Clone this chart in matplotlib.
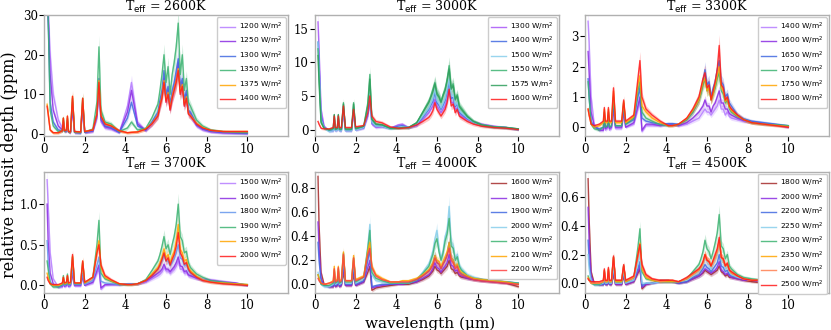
import numpy as np
import matplotlib
matplotlib.use("Agg")
import matplotlib.pyplot as plt

# shared wavelength grid (micron)
wl = [0.15, 0.2, 0.3, 0.45, 0.7, 0.9, 0.95, 1.0, 1.1, 1.15, 1.2, 1.3, 1.4, 1.5,
      1.8, 1.9, 2.0, 2.4, 2.6, 2.7, 2.8, 3.0, 3.3, 3.7, 4.1, 4.3, 4.6, 5.0,
      5.3, 5.6, 5.7, 5.8, 5.9, 6.0, 6.1, 6.2, 6.3, 6.4, 6.5, 6.6, 6.7, 6.8, 6.9, 7.0, 7.1, 7.2,
      7.5, 7.8, 8.2, 8.8, 9.4, 10.0]

# ---- Teff = 2600K ----
flux_2600 = [1200, 1250, 1300, 1350, 1375, 1400]
colors_2600 = ["#b57cff", "#8a2be2", "#4169e1", "#3cb371", "#ffa500", "#ff1a1a"]
depth_2600 = [
    [40, 32, 20, 10, 3.5, 1.5, 2.5, 0.8, 0.6, 2.5, 0.4, 0.3, 6.0, 0.3,
     0.2, 6.0, 0.3, 0.6, 4.0, 11, 3.0, 1.5, 1.2, 0.3, 7.0, 13, 3.0, 0.8,
     2.4, 4.5, 7, 9.5, 13, 8, 10, 6, 9, 11, 13, 17, 10, 12, 7, 9, 5, 4.5,
     2.0, 1.0, 0.5, 0.2, 0.1, 0.0],
    [36, 30, 15, 6, 2.0, 1.0, 3.0, 0.7, 0.7, 3.0, 0.5, 0.4, 7.0, 0.4,
     0.3, 7.0, 0.4, 0.7, 4.5, 12, 3.5, 1.8, 1.4, 0.4, 5.5, 11, 2.5, 0.9,
     2.6, 4.8, 7.5, 10, 14, 8.5, 11, 6.5, 9.5, 12, 14, 18, 11, 13, 7.5, 10, 5.5, 5,
     2.2, 1.2, 0.6, 0.3, 0.2, 0.1],
    [34, 30, 8, 3, 1.0, 0.8, 3.5, 0.6, 0.8, 3.5, 0.5, 0.4, 8.0, 0.4,
     0.3, 8.0, 0.4, 0.8, 5.0, 14, 4.0, 2.0, 1.6, 0.4, 4.0, 8, 2.0, 1.0,
     3.0, 5.5, 8.5, 11, 16, 10, 12, 7.5, 11, 13, 16, 19, 12, 14, 8.5, 11, 6, 5.5,
     2.4, 1.3, 0.7, 0.4, 0.3, 0.2],
    [34, 30, 6, 2, 0.6, 0.8, 4.0, 0.6, 0.9, 4.0, 0.5, 0.4, 9.0, 0.4,
     0.3, 9.0, 0.5, 1.2, 8.0, 22, 6.0, 3.0, 2.5, 0.6, 1.5, 3, 1.0, 1.4,
     4.0, 7.5, 11, 15, 20, 13, 17, 10, 15, 18, 22, 28, 15, 20, 11, 14, 8, 7,
     3.5, 2.0, 1.0, 0.6, 0.4, 0.3],
    [7.5, 5.5, 1.0, 0.3, 0.3, 0.8, 4.0, 0.8, 1.0, 4.5, 0.6, 0.5, 9.5, 0.6,
     0.5, 9.0, 0.6, 1.0, 5.0, 13.5, 4.5, 2.6, 2.1, 0.8, 0.3, 0.4, 0.5, 1.3,
     2.6, 4.7, 7.2, 9.5, 13.5, 8.5, 10.5, 6.3, 9.5, 11.5, 13.5, 16.5, 10.5, 12.5, 7.3, 9.4, 5.2, 4.7,
     2.6, 1.6, 0.9, 0.6, 0.6, 0.6],
    [7, 5, 1.0, 0.3, 0.3, 0.8, 4.0, 0.8, 1.0, 4.5, 0.6, 0.5, 9.5, 0.6,
     0.5, 9.0, 0.6, 1.0, 5.0, 13, 4.5, 2.5, 2.0, 0.8, 0.3, 0.4, 0.5, 1.2,
     2.5, 4.5, 7, 9, 13, 8, 10, 6, 9, 11, 13, 16, 10, 12, 7, 9, 5, 4.5,
     2.5, 1.5, 0.9, 0.6, 0.6, 0.6],
]

# ---- Teff = 3000K ----
flux_3000 = [1300, 1400, 1500, 1550, 1575, 1600]
colors_3000 = ["#a855f7", "#4169e1", "#87ceeb", "#3cb371", "#2e9e5b", "#ff1a1a"]
depth_3000 = [
    [16, 12, 3.0, 0.5, -0.2, -0.2, 1.2, -0.2, -0.1, 1.2, -0.2, -0.2, 2.5, -0.2,
     -0.2, 2.5, -0.1, 0.2, 2.0, 4.0, 0.8, 0.3, 0.4, 0.2, 0.7, 0.8, 0.3, 0.6,
     1.5, 2.5, 3.0, 3.5, 4.5, 3.5, 3.0, 2.5, 3.0, 3.5, 4.5, 6.0, 4.0, 4.0, 3.0, 3.2, 2.3, 2.0,
     1.5, 1.1, 0.8, 0.5, 0.3, 0.0],
    [13, 10, 2.0, 0.3, -0.2, -0.1, 1.5, -0.1, 0.0, 1.5, -0.1, -0.1, 3.0, -0.1,
     -0.1, 3.0, 0.0, 0.3, 2.4, 4.8, 1.0, 0.5, 0.5, 0.2, 0.5, 0.6, 0.3, 0.7,
     1.8, 3.0, 3.6, 4.2, 5.5, 4.0, 3.6, 3.0, 3.6, 4.3, 5.5, 7.0, 4.6, 4.8, 3.4, 3.8, 2.6, 2.3,
     1.6, 1.1, 0.7, 0.4, 0.3, 0.0],
    [13, 9, 1.5, 0.2, -0.3, -0.2, 1.6, -0.2, -0.1, 1.6, -0.2, -0.2, 3.2, -0.2,
     -0.2, 3.2, -0.1, 0.3, 2.8, 5.5, 1.1, 0.5, 0.5, 0.1, 0.3, 0.4, 0.3, 0.8,
     2.0, 3.2, 3.9, 4.6, 6.0, 4.3, 3.9, 3.2, 3.9, 4.6, 6.0, 7.5, 5.0, 5.2, 3.6, 4.0, 2.8, 2.5,
     1.7, 1.1, 0.7, 0.4, 0.3, 0.0],
    [12, 8, 1.2, 0.2, -0.1, 0.1, 2.2, 0.0, 0.1, 2.2, 0.0, 0.0, 4.0, 0.0,
     0.0, 4.0, 0.1, 0.5, 4.0, 8.2, 1.6, 0.8, 0.7, 0.2, 0.2, 0.3, 0.3, 1.0,
     2.6, 4.2, 5.0, 6.0, 7.0, 5.5, 5.0, 4.2, 5.2, 6.0, 7.5, 9.5, 6.3, 6.8, 4.6, 5.2, 3.6, 3.2,
     2.0, 1.2, 0.7, 0.4, 0.3, 0.1],
    [11, 7, 1.0, 0.2, 0.0, 0.2, 2.2, 0.1, 0.2, 2.2, 0.1, 0.1, 3.8, 0.1,
     0.1, 3.8, 0.2, 0.5, 3.6, 7.5, 1.5, 0.8, 0.7, 0.2, 0.2, 0.3, 0.3, 1.0,
     2.5, 4.0, 4.8, 5.6, 6.8, 5.2, 4.8, 4.0, 5.0, 5.8, 7.2, 9.0, 6.0, 6.5, 4.4, 5.0, 3.4, 3.0,
     1.9, 1.2, 0.7, 0.4, 0.3, 0.1],
    [1.2, 0.8, 0.2, 0.1, 0.1, 0.3, 2.0, 0.3, 0.3, 2.0, 0.3, 0.3, 3.5, 0.3,
     0.3, 3.0, 0.4, 0.6, 2.5, 5.0, 2.0, 1.2, 1.0, 0.4, 0.2, 0.2, 0.3, 0.7,
     1.2, 1.8, 2.2, 2.8, 4.0, 3.0, 2.5, 2.0, 2.5, 3.0, 4.0, 6.0, 3.5, 3.8, 2.5, 3.0, 2.0, 1.8,
     1.2, 0.8, 0.5, 0.3, 0.2, 0.0],
]

# ---- Teff = 3300K ----
flux_3300 = [1400, 1600, 1650, 1700, 1750, 1800]
colors_3300 = ["#b57cff", "#8a2be2", "#4169e1", "#3cb371", "#ffa500", "#ff1a1a"]
depth_3300 = [
    [3.5, 2.8, 1.0, 0.1, -0.1, -0.1, 0.2, -0.1, -0.05, 0.2, -0.1, -0.05, 0.4, -0.05,
     -0.05, 0.4, 0.0, 0.1, 0.6, 0.9, -0.15, 0.05, 0.05, 0.05, 0.1, 0.1, 0.05, 0.1,
     0.2, 0.3, 0.4, 0.5, 0.6, 0.5, 0.5, 0.4, 0.5, 0.6, 0.7, 0.9, 0.6, 0.6, 0.4, 0.5, 0.35, 0.3,
     0.25, 0.2, 0.18, 0.12, 0.08, 0.0],
    [2.5, 1.8, 0.5, 0.05, -0.1, -0.1, 0.3, -0.05, 0.0, 0.3, -0.05, 0.0, 0.6, 0.0,
     0.0, 0.5, 0.0, 0.15, 0.7, 1.0, -0.1, 0.1, 0.1, 0.05, 0.1, 0.1, 0.05, 0.15,
     0.3, 0.5, 0.6, 0.7, 0.9, 0.7, 0.7, 0.5, 0.7, 0.8, 1.0, 1.2, 0.8, 0.8, 0.6, 0.6, 0.45, 0.4,
     0.3, 0.22, 0.18, 0.12, 0.08, 0.0],
    [1.6, 1.0, 0.2, 0.0, -0.05, 0.0, 0.4, 0.0, 0.05, 0.4, 0.0, 0.05, 0.8, 0.05,
     0.05, 0.7, 0.1, 0.25, 1.0, 1.3, 0.3, 0.2, 0.15, 0.1, 0.12, 0.12, 0.1, 0.25,
     0.5, 0.9, 1.2, 1.5, 1.9, 1.4, 1.5, 1.0, 1.3, 1.5, 1.9, 2.2, 1.5, 1.4, 1.0, 1.1, 0.8, 0.7,
     0.4, 0.28, 0.2, 0.15, 0.1, 0.05],
    [1.5, 1.0, 0.1, -0.05, -0.1, 0.0, 0.5, 0.0, 0.05, 0.5, 0.0, 0.05, 1.0, 0.05,
     0.05, 0.8, 0.1, 0.3, 1.2, 1.5, 0.5, 0.3, 0.2, 0.08, 0.05, 0.06, 0.08, 0.25,
     0.5, 0.9, 1.1, 1.4, 1.6, 1.2, 1.3, 0.9, 1.1, 1.3, 1.6, 1.8, 1.2, 1.1, 0.8, 0.9, 0.6, 0.5,
     0.35, 0.25, 0.15, 0.1, 0.08, 0.05],
    [0.6, 0.4, 0.1, 0.0, 0.05, 0.15, 0.6, 0.15, 0.15, 0.6, 0.15, 0.15, 1.2, 0.15,
     0.15, 0.85, 0.15, 0.35, 1.4, 1.7, 0.7, 0.5, 0.3, 0.15, 0.05, 0.05, 0.1, 0.28,
     0.55, 0.9, 1.2, 1.5, 1.6, 1.2, 1.3, 0.9, 1.1, 1.4, 1.7, 2.0, 1.3, 1.2, 0.85, 0.95, 0.65, 0.55,
     0.38, 0.25, 0.15, 0.1, 0.06, 0.02],
    [0.6, 0.4, 0.1, 0.05, 0.1, 0.2, 0.65, 0.2, 0.2, 0.65, 0.2, 0.2, 1.3, 0.2,
     0.2, 0.9, 0.2, 0.4, 1.6, 2.2, 1.0, 0.6, 0.4, 0.2, 0.05, 0.05, 0.1, 0.3,
     0.6, 1.0, 1.3, 1.6, 1.8, 1.3, 1.4, 0.9, 1.2, 1.5, 1.9, 2.7, 1.4, 1.3, 0.9, 1.0, 0.7, 0.6,
     0.4, 0.25, 0.15, 0.1, 0.05, 0.0],
]

# ---- Teff = 3700K ----
flux_3700 = [1500, 1600, 1800, 1900, 1950, 2000]
colors_3700 = ["#b57cff", "#8a2be2", "#6495ed", "#3cb371", "#ffa500", "#ff1a1a"]
depth_3700 = [
    [1.3, 1.0, 0.4, 0.08, -0.02, -0.02, 0.04, -0.02, -0.01, 0.05, -0.02, -0.01, 0.12, -0.01,
     -0.01, 0.1, 0.0, 0.03, 0.15, 0.2, -0.05, 0.0, 0.01, 0.01, 0.02, 0.02, 0.02, 0.04,
     0.08, 0.12, 0.14, 0.17, 0.22, 0.18, 0.18, 0.15, 0.18, 0.2, 0.24, 0.3, 0.2, 0.2, 0.15, 0.16, 0.12, 0.11,
     0.09, 0.08, 0.07, 0.05, 0.03, 0.0],
    [1.0, 0.55, 0.15, 0.02, -0.02, -0.01, 0.05, -0.01, 0.0, 0.06, -0.01, 0.0, 0.15, 0.0,
     0.0, 0.12, 0.0, 0.04, 0.18, 0.25, -0.03, 0.01, 0.01, 0.01, 0.02, 0.02, 0.02, 0.05,
     0.1, 0.15, 0.17, 0.2, 0.26, 0.2, 0.2, 0.17, 0.2, 0.23, 0.28, 0.35, 0.24, 0.23, 0.17, 0.18, 0.13, 0.12,
     0.09, 0.07, 0.06, 0.04, 0.03, 0.0],
    [0.55, 0.3, 0.05, 0.0, -0.02, 0.0, 0.08, 0.0, 0.01, 0.08, 0.0, 0.01, 0.2, 0.01,
     0.01, 0.15, 0.01, 0.06, 0.25, 0.35, 0.05, 0.03, 0.02, 0.01, 0.02, 0.02, 0.02, 0.06,
     0.12, 0.2, 0.24, 0.3, 0.38, 0.3, 0.3, 0.24, 0.28, 0.33, 0.4, 0.5, 0.34, 0.32, 0.24, 0.26, 0.18, 0.15,
     0.1, 0.07, 0.05, 0.03, 0.02, 0.0],
    [0.3, 0.2, 0.02, -0.02, -0.02, 0.01, 0.12, 0.01, 0.02, 0.14, 0.01, 0.02, 0.35, 0.02,
     0.02, 0.28, 0.03, 0.1, 0.5, 0.8, 0.15, 0.08, 0.05, 0.01, 0.01, 0.01, 0.02, 0.07,
     0.18, 0.3, 0.38, 0.48, 0.6, 0.45, 0.5, 0.38, 0.5, 0.6, 0.75, 1.0, 0.6, 0.55, 0.4, 0.42, 0.28, 0.22,
     0.14, 0.1, 0.06, 0.04, 0.02, 0.01],
    [0.15, 0.1, 0.02, 0.0, 0.0, 0.02, 0.1, 0.02, 0.03, 0.12, 0.02, 0.03, 0.36, 0.03,
     0.03, 0.3, 0.03, 0.1, 0.42, 0.55, 0.22, 0.1, 0.06, 0.02, 0.01, 0.01, 0.02, 0.06,
     0.14, 0.22, 0.28, 0.35, 0.45, 0.34, 0.38, 0.28, 0.36, 0.42, 0.55, 0.75, 0.44, 0.4, 0.3, 0.32, 0.22, 0.18,
     0.11, 0.07, 0.04, 0.03, 0.02, 0.01],
    [0.1, 0.06, 0.02, 0.01, 0.01, 0.03, 0.1, 0.03, 0.04, 0.12, 0.03, 0.04, 0.38, 0.03,
     0.03, 0.3, 0.04, 0.1, 0.4, 0.5, 0.25, 0.12, 0.07, 0.02, 0.01, 0.01, 0.02, 0.06,
     0.12, 0.2, 0.25, 0.32, 0.4, 0.3, 0.34, 0.25, 0.32, 0.38, 0.48, 0.65, 0.4, 0.35, 0.26, 0.28, 0.2, 0.16,
     0.1, 0.06, 0.04, 0.02, 0.01, 0.0],
]

# ---- Teff = 4000K ----
flux_4000 = [1600, 1800, 1900, 2000, 2050, 2100, 2200]
colors_4000 = ["#a52a2a", "#8a2be2", "#4169e1", "#87ceeb", "#3cb371", "#ffa500", "#ff4040"]
depth_4000 = [
    [0.9, 0.5, 0.1, 0.0, -0.02, -0.02, 0.03, -0.02, -0.01, 0.04, -0.02, -0.01, 0.1, -0.01,
     -0.01, 0.08, -0.01, 0.02, 0.1, 0.15, -0.05, -0.03, -0.02, -0.01, 0.0, 0.0, 0.0, 0.02,
     0.04, 0.07, 0.09, 0.11, 0.15, 0.12, 0.11, 0.09, 0.11, 0.13, 0.15, 0.2, 0.13, 0.12, 0.09, 0.1, 0.07, 0.06,
     0.05, 0.04, 0.03, 0.02, 0.01, -0.02],
    [0.52, 0.3, 0.05, -0.01, -0.02, -0.02, 0.04, -0.02, -0.01, 0.05, -0.02, -0.01, 0.13, -0.01,
     -0.01, 0.1, -0.01, 0.02, 0.14, 0.2, -0.03, -0.02, -0.01, 0.0, 0.0, 0.0, 0.01, 0.02,
     0.05, 0.08, 0.1, 0.13, 0.18, 0.14, 0.13, 0.1, 0.13, 0.15, 0.18, 0.25, 0.16, 0.15, 0.11, 0.12, 0.08, 0.07,
     0.05, 0.04, 0.03, 0.02, 0.01, 0.0],
    [0.35, 0.2, 0.03, -0.01, -0.02, -0.01, 0.06, -0.01, 0.0, 0.07, -0.01, 0.0, 0.18, 0.0,
     0.0, 0.14, 0.0, 0.03, 0.2, 0.3, -0.02, -0.01, 0.0, 0.0, 0.01, 0.01, 0.01, 0.03,
     0.07, 0.11, 0.14, 0.17, 0.24, 0.18, 0.17, 0.13, 0.17, 0.2, 0.25, 0.35, 0.22, 0.2, 0.15, 0.16, 0.11, 0.09,
     0.06, 0.05, 0.04, 0.03, 0.02, 0.01],
    [0.1, 0.06, 0.0, -0.02, -0.02, 0.0, 0.1, 0.0, 0.01, 0.11, 0.0, 0.01, 0.24, 0.01,
     0.01, 0.2, 0.01, 0.05, 0.32, 0.5, 0.08, 0.03, 0.02, 0.01, 0.01, 0.01, 0.01, 0.04,
     0.1, 0.17, 0.22, 0.28, 0.38, 0.45, 0.3, 0.22, 0.28, 0.4, 0.45, 0.65, 0.35, 0.32, 0.22, 0.25, 0.16, 0.13,
     0.08, 0.06, 0.04, 0.03, 0.02, 0.01],
    [0.08, 0.05, 0.0, -0.01, -0.01, 0.01, 0.12, 0.01, 0.02, 0.13, 0.01, 0.02, 0.26, 0.02,
     0.02, 0.22, 0.02, 0.06, 0.3, 0.45, 0.1, 0.05, 0.03, 0.01, 0.01, 0.01, 0.01, 0.04,
     0.09, 0.15, 0.2, 0.25, 0.34, 0.38, 0.27, 0.2, 0.26, 0.36, 0.42, 0.55, 0.32, 0.3, 0.2, 0.23, 0.15, 0.12,
     0.07, 0.05, 0.04, 0.03, 0.02, 0.01],
    [0.08, 0.05, 0.01, 0.0, 0.01, 0.03, 0.15, 0.03, 0.04, 0.15, 0.03, 0.04, 0.27, 0.03,
     0.03, 0.24, 0.04, 0.07, 0.28, 0.35, 0.15, 0.08, 0.05, 0.02, 0.02, 0.03, 0.03, 0.05,
     0.08, 0.12, 0.15, 0.18, 0.24, 0.2, 0.19, 0.15, 0.19, 0.23, 0.27, 0.35, 0.22, 0.2, 0.15, 0.17, 0.12, 0.1,
     0.07, 0.05, 0.04, 0.03, 0.02, 0.0],
    [0.05, 0.03, 0.01, 0.0, 0.01, 0.02, 0.13, 0.02, 0.03, 0.14, 0.02, 0.03, 0.25, 0.03,
     0.03, 0.22, 0.03, 0.06, 0.25, 0.3, 0.14, 0.07, 0.04, 0.02, 0.02, 0.02, 0.02, 0.04,
     0.07, 0.11, 0.13, 0.16, 0.22, 0.18, 0.17, 0.13, 0.17, 0.2, 0.24, 0.3, 0.2, 0.18, 0.13, 0.15, 0.1, 0.08,
     0.06, 0.04, 0.03, 0.02, 0.01, 0.0],
]

# ---- Teff = 4500K ----
flux_4500 = [1800, 2000, 2200, 2250, 2300, 2350, 2400, 2500]
colors_4500 = ["#a52a2a", "#8a2be2", "#4169e1", "#87ceeb", "#3cb371", "#ffa500", "#ff7f50", "#ff1a1a"]
depth_4500 = [
    [0.73, 0.45, 0.08, 0.0, -0.01, -0.01, 0.02, -0.01, -0.01, 0.02, -0.01, -0.01, 0.06, -0.01,
     -0.01, 0.05, -0.01, 0.01, 0.07, 0.1, -0.04, -0.01, 0.0, 0.02, 0.02, 0.01, 0.0, 0.01,
     0.03, 0.05, 0.06, 0.07, 0.09, 0.08, 0.07, 0.06, 0.07, 0.08, 0.09, 0.12, 0.08, 0.07, 0.05, 0.06, 0.04, 0.04,
     0.03, 0.02, 0.01, 0.0, -0.01, -0.04],
    [0.53, 0.3, 0.05, 0.0, -0.01, -0.01, 0.02, -0.01, -0.01, 0.03, -0.01, -0.01, 0.07, -0.01,
     -0.01, 0.06, -0.01, 0.01, 0.08, 0.12, -0.03, -0.01, 0.0, 0.01, 0.01, 0.01, 0.0, 0.01,
     0.03, 0.05, 0.06, 0.08, 0.1, 0.09, 0.08, 0.07, 0.08, 0.09, 0.11, 0.15, 0.09, 0.08, 0.06, 0.07, 0.05, 0.04,
     0.03, 0.02, 0.02, 0.01, 0.01, 0.0],
    [0.3, 0.15, 0.02, -0.01, -0.01, -0.01, 0.03, -0.01, 0.0, 0.04, -0.01, 0.0, 0.09, 0.0,
     0.0, 0.07, 0.0, 0.02, 0.1, 0.15, -0.02, 0.0, 0.0, 0.01, 0.01, 0.01, 0.0, 0.01,
     0.04, 0.06, 0.08, 0.1, 0.13, 0.11, 0.1, 0.08, 0.1, 0.12, 0.14, 0.2, 0.12, 0.11, 0.08, 0.09, 0.06, 0.05,
     0.04, 0.03, 0.02, 0.02, 0.01, 0.01],
    [0.2, 0.1, 0.01, -0.01, -0.01, 0.0, 0.05, 0.0, 0.0, 0.05, 0.0, 0.0, 0.12, 0.0,
     0.0, 0.09, 0.0, 0.02, 0.14, 0.2, 0.0, 0.0, 0.0, 0.01, 0.01, 0.01, 0.01, 0.02,
     0.05, 0.08, 0.1, 0.13, 0.18, 0.15, 0.13, 0.1, 0.14, 0.17, 0.2, 0.28, 0.16, 0.15, 0.1, 0.12, 0.08, 0.06,
     0.04, 0.03, 0.02, 0.02, 0.01, 0.01],
    [0.05, 0.03, 0.0, -0.01, -0.01, 0.01, 0.08, 0.01, 0.01, 0.09, 0.01, 0.01, 0.18, 0.01,
     0.01, 0.12, 0.01, 0.04, 0.25, 0.38, 0.08, 0.03, 0.02, 0.01, 0.01, 0.01, 0.01, 0.03,
     0.08, 0.13, 0.17, 0.22, 0.3, 0.24, 0.22, 0.17, 0.22, 0.28, 0.35, 0.48, 0.26, 0.24, 0.17, 0.2, 0.12, 0.1,
     0.06, 0.04, 0.03, 0.02, 0.02, 0.01],
    [0.04, 0.02, 0.0, 0.0, 0.0, 0.01, 0.09, 0.01, 0.01, 0.1, 0.01, 0.01, 0.18, 0.01,
     0.01, 0.12, 0.01, 0.04, 0.2, 0.28, 0.1, 0.04, 0.02, 0.01, 0.01, 0.01, 0.01, 0.03,
     0.06, 0.09, 0.11, 0.14, 0.2, 0.16, 0.15, 0.12, 0.15, 0.18, 0.22, 0.3, 0.18, 0.16, 0.12, 0.13, 0.09, 0.07,
     0.05, 0.03, 0.02, 0.02, 0.01, 0.01],
    [0.03, 0.02, 0.0, 0.0, 0.0, 0.01, 0.09, 0.01, 0.02, 0.1, 0.01, 0.02, 0.18, 0.02,
     0.02, 0.12, 0.02, 0.04, 0.18, 0.25, 0.12, 0.05, 0.03, 0.01, 0.02, 0.02, 0.01, 0.03,
     0.06, 0.09, 0.11, 0.14, 0.19, 0.16, 0.15, 0.12, 0.15, 0.18, 0.22, 0.3, 0.18, 0.16, 0.12, 0.13, 0.09, 0.07,
     0.05, 0.03, 0.02, 0.02, 0.01, 0.01],
    [0.03, 0.02, 0.01, 0.01, 0.01, 0.02, 0.1, 0.02, 0.02, 0.11, 0.02, 0.02, 0.19, 0.02,
     0.02, 0.13, 0.02, 0.05, 0.2, 0.27, 0.13, 0.06, 0.03, 0.02, 0.02, 0.02, 0.01, 0.04,
     0.07, 0.1, 0.12, 0.15, 0.2, 0.16, 0.15, 0.12, 0.16, 0.2, 0.24, 0.32, 0.18, 0.17, 0.12, 0.14, 0.09, 0.08,
     0.05, 0.03, 0.02, 0.02, 0.02, 0.01],
]

teffs = [2600, 3000, 3300, 3700, 4000, 4500]
fluxes = [flux_2600, flux_3000, flux_3300, flux_3700, flux_4000, flux_4500]
depths = [depth_2600, depth_3000, depth_3300, depth_3700, depth_4000, depth_4500]
colors = [colors_2600, colors_3000, colors_3300, colors_3700, colors_4000, colors_4500]
ylims = [(-0.6, 30), (-1.0, 17), (-0.3, 3.7), (-0.09, 1.4), (-0.07, 0.94), (-0.067, 0.78)]
yticks = [[0, 10, 20, 30], [0, 5, 10, 15], [0, 1, 2, 3],
          [0.0, 0.5, 1.0], [0.0, 0.2, 0.4, 0.6, 0.8], [0.0, 0.2, 0.4, 0.6]]

plt.rcParams["font.family"] = "DejaVu Serif"

fig = plt.figure(figsize=(8.31, 3.30), dpi=100)
lefts = [0.053, 0.379, 0.704]
bottoms = [0.587, 0.113]
w, h = 0.2936, 0.367

x = np.array(wl)
for i in range(6):
    ax = fig.add_axes([lefts[i % 3], bottoms[i // 3], w, h])
    ymax = ylims[i][1]
    for f, y, c in zip(fluxes[i], depths[i], colors[i]):
        y = np.array(y)
        err = 0.12 * np.abs(y) + 0.01 * ymax
        ax.fill_between(x, y - err, y + err, color=c, alpha=0.25, lw=0)
        ax.plot(x, y, color=c, lw=1.0, alpha=0.85, label="%d W/m$^2$" % f)
    ax.set_xlim(0, 12)
    ax.set_ylim(*ylims[i])
    ax.set_xticks([0, 2, 4, 6, 8, 10])
    ax.set_yticks(yticks[i])
    ax.tick_params(direction="out", length=3.5, width=0.8, labelsize=8.5, pad=1)
    for s in ax.spines.values():
        s.set_color("#b0b0b0")
        s.set_linewidth(1.0)
    ax.set_title(r"T$_{\rm eff}$ = %dK" % teffs[i], fontsize=9, pad=1.5)
    leg = ax.legend(loc="upper right", prop={"family": "DejaVu Sans", "size": 5.4},
                    handlelength=2.0, handletextpad=0.6, labelspacing=0.3,
                    borderaxespad=0.3, borderpad=0.4, framealpha=1)
    leg.get_frame().set_edgecolor("#cccccc")

fig.text(0.517, 0.018, "wavelength (μm)", ha="center", va="center", fontsize=11)
fig.text(0.012, 0.5, "relative transit depth (ppm)", ha="center", va="center",
         rotation=90, fontsize=11.5)

fig.savefig("out.png", dpi=100)
